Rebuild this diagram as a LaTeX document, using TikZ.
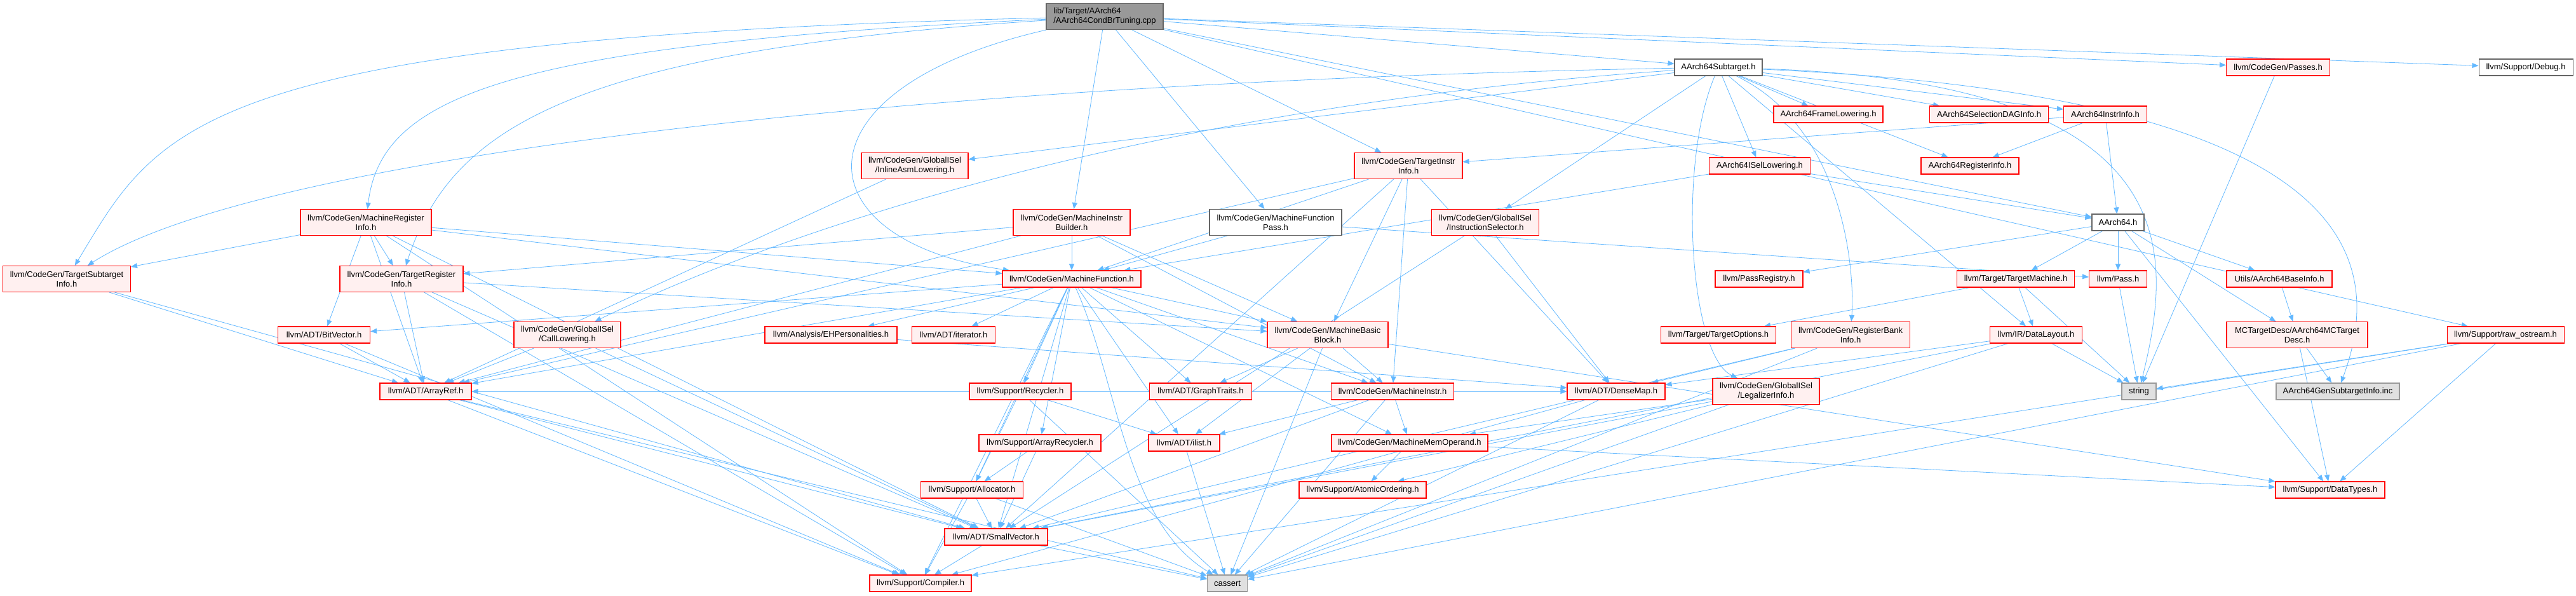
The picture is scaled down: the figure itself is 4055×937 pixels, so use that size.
\documentclass[tikz,border=0pt]{standalone}
\usepackage{fontspec}
\setmainfont{Liberation Sans}
\usetikzlibrary{arrows.meta,backgrounds}
\definecolor{edgeblue}{HTML}{63B8FF}
\definecolor{hdrfill}{HTML}{FFF0F0}
\definecolor{hdrline}{HTML}{FF0000}
\definecolor{rootfill}{HTML}{999999}
\definecolor{rootline}{HTML}{666666}
\definecolor{sysfill}{HTML}{E0E0E0}
\definecolor{sysline}{HTML}{999999}

\begin{document}
\begin{tikzpicture}[
  x=1pt,
  y=-1pt,
  every node/.style={font=\fontsize{13}{15}\selectfont, inner sep=0pt,
    minimum height=26pt, align=center, line width=1.1pt},
  hdr/.style={draw=hdrline, fill=hdrfill},
  docnode/.style={draw=rootline, fill=white},
  sysnode/.style={draw=sysline, fill=sysfill},
  rootnode/.style={draw=rootline, fill=rootfill, align=left},
  two/.style={minimum height=41pt},
  edge/.style={draw=edgeblue, line width=0.8pt,
    -{Triangle[length=10pt,width=8pt]}}
]
  \useasboundingbox (0,0) rectangle (4055,937);

  % Row 0: the source file
  \node[rootnode, two, minimum width=184pt] (root) at (1739,26)
    {lib/Target/AArch64\\/AArch64CondBrTuning.cpp};

  % Row 1
  \node[docnode, minimum width=138pt] (sub) at (2705,106) {AArch64Subtarget.h};
  \node[hdr, minimum width=163pt] (passes) at (3586,106) {llvm/CodeGen/Passes.h};
  \node[docnode, minimum width=148pt] (debug) at (3976,106) {llvm/Support/Debug.h};

  % Row 2
  \node[hdr, minimum width=172pt] (framelow) at (2878,180) {AArch64FrameLowering.h};
  \node[hdr, minimum width=187pt] (seldag) at (3131,180) {AArch64SelectionDAGInfo.h};
  \node[hdr, minimum width=131pt] (instrinfo) at (3314,180) {AArch64InstrInfo.h};

  % Row 3
  \node[hdr, two, minimum width=168pt] (inlineasm) at (1440,261)
    {llvm/CodeGen/GlobalISel\\/InlineAsmLowering.h};
  \node[hdr, two, minimum width=170pt] (tii) at (2217,261)
    {llvm/CodeGen/TargetInstr\\Info.h};
  \node[hdr, minimum width=159pt] (isel) at (2770,261) {AArch64ISelLowering.h};
  \node[hdr, minimum width=154pt] (reginfo) at (3101,261) {AArch64RegisterInfo.h};

  % Row 4
  \node[hdr, two, minimum width=206pt] (mri) at (576,350)
    {llvm/CodeGen/MachineRegister\\Info.h};
  \node[hdr, two, minimum width=184pt] (mib) at (1687,350)
    {llvm/CodeGen/MachineInstr\\Builder.h};
  \node[docnode, two, minimum width=208pt] (mfpass) at (2008,350)
    {llvm/CodeGen/MachineFunction\\Pass.h};
  \node[hdr, two, minimum width=169pt] (instsel) at (2338,350)
    {llvm/CodeGen/GlobalISel\\/InstructionSelector.h};
  \node[docnode, minimum width=82pt] (aarch) at (3334,350) {AArch64.h};

  % Row 5
  \node[hdr, two, minimum width=201pt] (tsi) at (105,439)
    {llvm/CodeGen/TargetSubtarget\\Info.h};
  \node[hdr, two, minimum width=194pt] (tri) at (632,439)
    {llvm/CodeGen/TargetRegister\\Info.h};
  \node[hdr, minimum width=218pt] (mf) at (1687,439) {llvm/CodeGen/MachineFunction.h};
  \node[hdr, minimum width=138pt] (passreg) at (2769,439) {llvm/PassRegistry.h};
  \node[hdr, minimum width=185pt] (tm) at (3173,439) {llvm/Target/TargetMachine.h};
  \node[hdr, minimum width=91pt] (pass) at (3334,439) {llvm/Pass.h};
  \node[hdr, minimum width=166pt] (baseinfo) at (3588,439) {Utils/AArch64BaseInfo.h};

  % Row 6
  \node[hdr, minimum width=145pt] (bitvec) at (510,527) {llvm/ADT/BitVector.h};
  \node[hdr, two, minimum width=168pt] (calllow) at (893,527)
    {llvm/CodeGen/GlobalISel\\/CallLowering.h};
  \node[hdr, minimum width=208pt] (ehpers) at (1308,527) {llvm/Analysis/EHPersonalities.h};
  \node[hdr, minimum width=131pt] (iter) at (1501,527) {llvm/ADT/iterator.h};
  \node[hdr, two, minimum width=190pt] (mbb) at (2090,527)
    {llvm/CodeGen/MachineBasic\\Block.h};
  \node[hdr, minimum width=181pt] (topts) at (2705,527) {llvm/Target/TargetOptions.h};
  \node[hdr, two, minimum width=187pt] (rbi) at (2913,527)
    {llvm/CodeGen/RegisterBank\\Info.h};
  \node[hdr, minimum width=145pt] (dl) at (3205,527) {llvm/IR/DataLayout.h};
  \node[hdr, two, minimum width=222pt] (mctd) at (3616,527)
    {MCTargetDesc/AArch64MCTarget\\Desc.h};
  \node[hdr, minimum width=184pt] (rawos) at (3944,527) {llvm/Support/raw\_ostream.h};

  % Row 7
  \node[hdr, minimum width=144pt] (arrayref) at (670,616) {llvm/ADT/ArrayRef.h};
  \node[hdr, minimum width=160pt] (recycler) at (1606,616) {llvm/Support/Recycler.h};
  \node[hdr, minimum width=161pt] (graphtr) at (1890,616) {llvm/ADT/GraphTraits.h};
  \node[hdr, minimum width=193pt] (minstr) at (2192,616) {llvm/CodeGen/MachineInstr.h};
  \node[hdr, minimum width=154pt] (densemap) at (2544,616) {llvm/ADT/DenseMap.h};
  \node[hdr, two, minimum width=168pt] (legal) at (2780,616)
    {llvm/CodeGen/GlobalISel\\/LegalizerInfo.h};
  \node[sysnode, minimum width=54pt] (string) at (3367,616) {string};
  \node[sysnode, minimum width=194pt] (gensub) at (3680,616) {AArch64GenSubtargetInfo.inc};

  % Row 8
  \node[hdr, minimum width=192pt] (arec) at (1637,697) {llvm/Support/ArrayRecycler.h};
  \node[hdr, minimum width=112pt] (ilist) at (1864,697) {llvm/ADT/ilist.h};
  \node[hdr, minimum width=246pt] (mmo) at (2219,697) {llvm/CodeGen/MachineMemOperand.h};

  % Row 9
  \node[hdr, minimum width=161pt] (alloc) at (1530,771) {llvm/Support/Allocator.h};
  \node[hdr, minimum width=200pt] (atomic) at (2145,771) {llvm/Support/AtomicOrdering.h};
  \node[hdr, minimum width=172pt] (datatypes) at (3668,771) {llvm/Support/DataTypes.h};

  % Row 10 and 11
  \node[hdr, minimum width=162pt] (smallvec) at (1568,845) {llvm/ADT/SmallVector.h};
  \node[hdr, minimum width=160pt] (compiler) at (1449,918) {llvm/Support/Compiler.h};
  \node[sysnode, minimum width=63pt] (cassert) at (1932,918) {cassert};

  % include edges, one group for each including file
  \begin{scope}[on background layer]
    % long detours round the other nodes
    \draw[edge] (root) .. controls (300,60) and (250,200) .. (tsi);
    \draw[edge] (root) .. controls (800,70) and (600,150) .. (mri);
    \draw[edge] (root) .. controls (900,80) and (710,200) .. (tri);
    \draw[edge] (root) .. controls (1240,140) and (1260,380) .. (mf);
    \draw[edge] (sub) .. controls (1400,130) and (400,250) .. (tsi);
    \draw[edge] (sub) .. controls (1900,160) and (1300,330) .. (calllow);
    \draw[edge] (sub) .. controls (2640,260) and (2660,560) .. (legal);
    \draw[edge] (sub) .. controls (2900,200) and (2920,420) .. (rbi);
    \draw[edge] (sub) .. controls (3450,130) and (3420,400) .. (string);
    \draw[edge] (sub) .. controls (3700,150) and (3760,400) .. (gensub);
    \draw[edge] (mf) .. controls (1760,600) and (1770,820) .. (cassert);

    \foreach \dst in {mib,mfpass,tii,sub,passes,debug,aarch,rawos}
      \draw[edge] (root) -- (\dst);
    \foreach \dst in {framelow,seldag,instrinfo,reginfo,isel,inlineasm,
                      instsel,dl}
      \draw[edge] (sub) -- (\dst);
    \foreach \dst in {aarch,reginfo,tii}
      \draw[edge] (instrinfo) -- (\dst);
    \foreach \dst in {aarch,mf}
      \draw[edge] (isel) -- (\dst);
    \draw[edge] (passes) -- (string);
    \foreach \dst in {tm,pass,baseinfo,mctd,datatypes,passreg}
      \draw[edge] (aarch) -- (\dst);
    \draw[edge] (baseinfo) -- (mctd);
    \foreach \dst in {gensub,datatypes}
      \draw[edge] (mctd) -- (\dst);
    \foreach \dst in {dl,string,topts}
      \draw[edge] (tm) -- (\dst);
    \draw[edge] (pass) -- (string);
    \foreach \dst in {string,smallvec,densemap,cassert}
      \draw[edge] (dl) -- (\dst);
    \foreach \dst in {string,datatypes,compiler,cassert}
      \draw[edge] (rawos) -- (\dst);
    \foreach \dst in {tsi,tri,bitvec,mf,mbb,smallvec,arrayref,compiler}
      \draw[edge] (mri) -- (\dst);
    \foreach \dst in {arrayref,smallvec,compiler,mbb}
      \draw[edge] (tri) -- (\dst);
    \foreach \dst in {arrayref,smallvec}
      \draw[edge] (tsi) -- (\dst);
    \foreach \dst in {tri,mf,mbb,minstr,arrayref}
      \draw[edge] (mib) -- (\dst);
    \foreach \dst in {mf,pass}
      \draw[edge] (mfpass) -- (\dst);
    \foreach \dst in {mf,mbb,minstr,densemap,arrayref,smallvec}
      \draw[edge] (tii) -- (\dst);
    \foreach \dst in {densemap,smallvec}
      \draw[edge] (instsel) -- (\dst);
    \foreach \dst in {mmo,atomic,smallvec,cassert}
      \draw[edge] (legal) -- (\dst);
    \foreach \dst in {densemap,smallvec,cassert}
      \draw[edge] (rbi) -- (\dst);
    \foreach \dst in {arrayref,smallvec}
      \draw[edge] (calllow) -- (\dst);
    \draw[edge] (inlineasm) -- (arrayref);
    \foreach \dst in {bitvec,ehpers,iter,mbb,minstr,mmo,arec,recycler,alloc,
                      ilist,graphtr,smallvec,arrayref,compiler}
      \draw[edge] (mf) -- (\dst);
    \foreach \dst in {graphtr,ilist,minstr,cassert,datatypes}
      \draw[edge] (mbb) -- (\dst);
    \foreach \dst in {mmo,densemap,arrayref,smallvec,ilist,cassert}
      \draw[edge] (minstr) -- (\dst);
    \foreach \dst in {atomic,datatypes}
      \draw[edge] (mmo) -- (\dst);
    \draw[edge] (ehpers) -- (densemap);
    \foreach \dst in {alloc,ilist,cassert}
      \draw[edge] (recycler) -- (\dst);
    \foreach \dst in {alloc,smallvec}
      \draw[edge] (arec) -- (\dst);
    \foreach \dst in {smallvec,compiler,cassert}
      \draw[edge] (alloc) -- (\dst);
    \draw[edge] (ilist) -- (cassert);
    \foreach \dst in {compiler,cassert}
      \draw[edge] (densemap) -- (\dst);
    \foreach \dst in {compiler,cassert}
      \draw[edge] (smallvec) -- (\dst);
    \foreach \dst in {smallvec,compiler,cassert}
      \draw[edge] (arrayref) -- (\dst);
    \foreach \dst in {arrayref,compiler}
      \draw[edge] (bitvec) -- (\dst);
  \end{scope}
\end{tikzpicture}
\end{document}
